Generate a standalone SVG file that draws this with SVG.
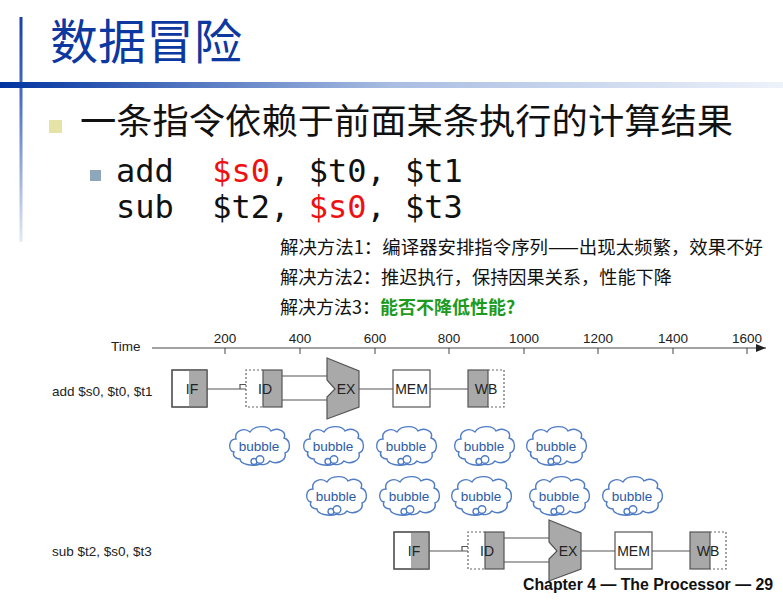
<svg xmlns="http://www.w3.org/2000/svg" xmlns:xlink="http://www.w3.org/1999/xlink" width="783" height="600" viewBox="0 0 783 600">
  <style>
    .cjk { font-family: "Noto Sans CJK SC", "Noto Sans", sans-serif; }
    .sans { font-family: "Liberation Sans", Arial, sans-serif; }
    .mono { font-family: "DejaVu Sans Mono", "Liberation Mono", monospace; }
    .lbl { font-family: "Liberation Sans", Arial, sans-serif; font-size: 13.5px; fill: #222; }
    .stage { font-family: "Liberation Sans", Arial, sans-serif; font-size: 14px; fill: #222; text-anchor: middle; }
    .box { fill: #fff; stroke: #555; stroke-width: 1.2; }
    .grey { fill: #a9a9a9; }
    .outline { fill: none; stroke: #555; stroke-width: 1.2; }
    .dot { fill: none; stroke: #666; stroke-width: 1.2; stroke-dasharray: 2 2; }
    .wire { fill: none; stroke: #555; stroke-width: 1.2; }
    .axis { fill: none; stroke: #444; stroke-width: 1; }
    .tick { font-family: "Liberation Sans", Arial, sans-serif; font-size: 13.5px; fill: #222; text-anchor: middle; }
    .cloud { fill: #fff; stroke: #4f7cc4; stroke-width: 1.4; }
    .btxt { font-family: "Liberation Sans", Arial, sans-serif; font-size: 13.5px; fill: #2b5aa6; text-anchor: middle; }
  </style>
  <defs>
    <linearGradient id="hbar" x1="0" y1="0" x2="1" y2="0">
      <stop offset="0" stop-color="#0033a0"/>
      <stop offset="0.5" stop-color="#a9bde2"/>
      <stop offset="1" stop-color="#eef2fa"/>
    </linearGradient>
    <linearGradient id="vbar" x1="0" y1="0" x2="0" y2="1">
      <stop offset="0" stop-color="#1a40a8"/>
      <stop offset="0.35" stop-color="#4a6cc0"/>
      <stop offset="1" stop-color="#e4eaf6"/>
    </linearGradient>
    <marker id="arrow" viewBox="0 0 10 8" refX="10" refY="4" markerWidth="10" markerHeight="8" markerUnits="userSpaceOnUse" orient="auto">
      <path d="M0,0 L10,4 L0,8 Z" fill="#222"/>
    </marker>
    <g id="cloud">
      <path class="cloud" d="M6,27 C0,26 0,14 8,14 C6,6 16,2 22,7 C26,0 40,0 43,6 C49,2 59,6 56,13 C63,15 63,26 57,28 C59,36 48,40 42,36 C39,40 34,40 32,39 C24,42 12,39 12,34 C8,34 4,31 6,27 Z"/>
      <circle class="cloud" cx="26" cy="36.5" r="3"/>
      <circle class="cloud" cx="32" cy="34.5" r="3.8"/>
    </g>
    <!-- one five-stage pipeline row: IF, ID, EX, MEM, WB -->
    <g id="pipeRow">
      <g id="stageIF">
        <rect class="box" x="172" y="370" width="35" height="37"/>
        <rect class="grey" x="189" y="370" width="18" height="37"/>
        <rect class="outline" x="172" y="370" width="35" height="37"/>
        <text class="stage" x="192" y="394">IF</text>
      </g>
      <g id="stageID">
        <rect x="246" y="370" width="17" height="37" fill="#fff"/>
        <path class="dot" d="M263,370 H246 V407 H263"/>
        <rect class="grey" x="263" y="370" width="19" height="37" stroke="#555" stroke-width="1.2"/>
        <text class="stage" x="265" y="394">ID</text>
      </g>
      <g id="stageEX">
        <path d="M327,358 L359,371 L359,407 L327,419 L327,397 L335,389 L327,380 Z" fill="#a9a9a9" stroke="#555" stroke-width="1.2"/>
        <text class="stage" x="346" y="394">EX</text>
      </g>
      <g id="stageMEM">
        <rect class="box" x="393" y="370" width="37" height="37"/>
        <text class="stage" x="411.5" y="394">MEM</text>
      </g>
      <g id="stageWB">
        <rect class="grey" x="468" y="370" width="20" height="37" stroke="#555" stroke-width="1.2"/>
        <path class="dot" d="M488,370 H504 V407 H488"/>
        <text class="stage" x="486" y="394">WB</text>
      </g>
      <g id="rowWires">
        <path class="wire" d="M207,389 H246"/>
        <path class="wire" d="M240,389 V384.5 H246"/>
        <path class="wire" d="M282,376 H327"/>
        <path class="wire" d="M282,400 H327"/>
        <path class="wire" d="M359,389 H393"/>
        <path class="wire" d="M430,389 H468"/>
      </g>
    </g>
  </defs>

  <!-- slide frame -->
  <rect x="0" y="0" width="783" height="600" fill="#fff"/>
  <rect x="19.5" y="17" width="3" height="225" fill="url(#vbar)"/>
  <rect x="0" y="82" width="783" height="6" fill="url(#hbar)"/>

  <!-- title -->
  <text class="cjk" x="50" y="59" font-size="48" fill="#0d38a0">数据冒险</text>

  <!-- bullets -->
  <rect x="49" y="120" width="13" height="13" fill="#e6e3a6"/>
  <text class="cjk" x="80" y="134" font-size="35" fill="#111" textLength="653" lengthAdjust="spacingAndGlyphs">一条指令依赖于前面某条执行的计算结果</text>
  <rect x="90" y="170" width="11" height="11" fill="#8ea7bb"/>
  <text class="mono" x="116" y="182" font-size="32" fill="#111" xml:space="preserve">add  <tspan fill="#ee1111">$s0</tspan>, $t0, $t1</text>
  <text class="mono" x="116" y="218" font-size="32" fill="#111" xml:space="preserve">sub  $t2, <tspan fill="#ee1111">$s0</tspan>, $t3</text>

  <!-- remedies -->
  <text class="cjk" x="280" y="254" font-size="18" fill="#111" textLength="483" lengthAdjust="spacingAndGlyphs">解决方法1：编译器安排指令序列——出现太频繁，效果不好</text>
  <text class="cjk" x="280" y="284" font-size="18" fill="#111" textLength="392" lengthAdjust="spacingAndGlyphs">解决方法2：推迟执行，保持因果关系，性能下降</text>
  <text class="cjk" x="280" y="314" font-size="18" fill="#111">解决方法3：<tspan fill="#1e9a1e" font-weight="bold">能否不降低性能?</tspan></text>

  <!-- time axis -->
  <g id="timeAxis">
    <text class="lbl" x="111" y="351">Time</text>
    <path class="axis" d="M152,348 H766" marker-end="url(#arrow)"/>
    <path class="axis" d="M225,348 v6 M300,348 v6 M375,348 v6 M449,348 v6 M524,348 v6 M598,348 v6 M673,348 v6 M747,348 v6"/>
    <text class="tick" x="225" y="343">200</text>
    <text class="tick" x="300" y="343">400</text>
    <text class="tick" x="375" y="343">600</text>
    <text class="tick" x="449" y="343">800</text>
    <text class="tick" x="524" y="343">1000</text>
    <text class="tick" x="598" y="343">1200</text>
    <text class="tick" x="673" y="343">1400</text>
    <text class="tick" x="747" y="343">1600</text>
  </g>

  <!-- instruction rows -->
  <text class="lbl" x="52" y="396">add $s0, $t0, $t1</text>
  <text class="lbl" x="52" y="556">sub $t2, $s0, $t3</text>
  <g id="addPipeline">
    <use xlink:href="#pipeRow" href="#pipeRow"/>
  </g>
  <g id="subPipeline" transform="translate(222,162)">
    <use xlink:href="#pipeRow" href="#pipeRow"/>
  </g>

  <!-- stall bubbles -->
  <g id="bubble1" transform="translate(228,425)"><use href="#cloud" xlink:href="#cloud"/><text class="btxt" x="31" y="26">bubble</text></g>
  <g id="bubble2" transform="translate(302,425)"><use href="#cloud" xlink:href="#cloud"/><text class="btxt" x="31" y="26">bubble</text></g>
  <g id="bubble3" transform="translate(375,425)"><use href="#cloud" xlink:href="#cloud"/><text class="btxt" x="31" y="26">bubble</text></g>
  <g id="bubble4" transform="translate(453,425)"><use href="#cloud" xlink:href="#cloud"/><text class="btxt" x="31" y="26">bubble</text></g>
  <g id="bubble5" transform="translate(525,425)"><use href="#cloud" xlink:href="#cloud"/><text class="btxt" x="31" y="26">bubble</text></g>
  <g id="bubble6" transform="translate(305,475)"><use href="#cloud" xlink:href="#cloud"/><text class="btxt" x="31" y="26">bubble</text></g>
  <g id="bubble7" transform="translate(378,475)"><use href="#cloud" xlink:href="#cloud"/><text class="btxt" x="31" y="26">bubble</text></g>
  <g id="bubble8" transform="translate(450,475)"><use href="#cloud" xlink:href="#cloud"/><text class="btxt" x="31" y="26">bubble</text></g>
  <g id="bubble9" transform="translate(528,475)"><use href="#cloud" xlink:href="#cloud"/><text class="btxt" x="31" y="26">bubble</text></g>
  <g id="bubble10" transform="translate(601,475)"><use href="#cloud" xlink:href="#cloud"/><text class="btxt" x="31" y="26">bubble</text></g>

  <!-- footer -->
  <text class="sans" x="523" y="590" font-size="16" font-weight="bold" fill="#111" textLength="250" lengthAdjust="spacingAndGlyphs">Chapter 4 — The Processor — 29</text>
</svg>
